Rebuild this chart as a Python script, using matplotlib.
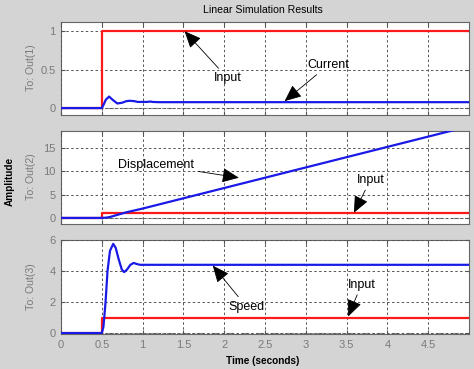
import matplotlib
matplotlib.use("Agg")
import matplotlib.pyplot as plt

plt.rcParams['font.family'] = ['Liberation Sans', 'DejaVu Sans']

# ---- data ----
t_input = [0, 0.5, 0.5, 5.0]
u_input = [0, 0, 1, 1]

t_current = [0, 0.5, 0.52, 0.55, 0.59, 0.63, 0.69, 0.75, 0.8, 0.84, 0.9, 0.94, 1.05, 1.1, 1.12, 1.2, 5.0]
y_current = [0, 0, 0.04, 0.11, 0.15, 0.11, 0.06, 0.07, 0.09, 0.095, 0.09, 0.08, 0.08, 0.085, 0.08, 0.077, 0.077]

t_disp = [0, 0.5, 0.55, 0.6, 0.7, 0.8, 1.0, 2.0, 3.0, 4.0, 5.0]
y_disp = [0, 0, 0.05, 0.2, 0.7, 1.2, 2.0, 6.4, 10.8, 15.2, 19.6]

t_speed = [0, 0.5, 0.52, 0.546, 0.57, 0.6, 0.64, 0.67, 0.71, 0.745, 0.774, 0.81, 0.85, 0.89, 0.93, 0.97, 1.0, 5.0]
y_speed = [0, 0, 0.4, 2.0, 4.0, 5.3, 5.75, 5.5, 4.7, 4.1, 3.93, 4.1, 4.4, 4.52, 4.45, 4.4, 4.4, 4.4]

x_ticks = [0, 0.5, 1, 1.5, 2, 2.5, 3, 3.5, 4, 4.5]
x_ticklabels = ['0', '0.5', '1', '1.5', '2', '2.5', '3', '3.5', '4', '4.5']
y1_ticks = [0, 0.5, 1]
y1_labels = ['0', '0.5', '1']
y2_ticks = [0, 5, 10, 15]
y2_labels = ['0', '5', '10', '15']
y3_ticks = [0, 2, 4, 6]
y3_labels = ['0', '2', '4', '6']

BG = '#d4d4d4'
TICKC = '#7a7a7a'
RED = '#ff1a1a'
BLUE = '#1a1ae6'

fig = plt.figure(figsize=(4.74, 3.69), dpi=100, facecolor=BG)

L, W = 61 / 474, (469 - 61) / 474
def box(top, bot):
    return [L, 1 - bot / 369, W, (bot - top) / 369]

ax1 = fig.add_axes(box(22, 115))
ax2 = fig.add_axes(box(131, 224))
ax3 = fig.add_axes(box(240, 334))

specs = [
    (ax1, t_current, y_current, (-0.09, 1.12), y1_ticks, y1_labels, 'To: Out(1)', 68),
    (ax2, t_disp, y_disp, (-1.3, 18.6), y2_ticks, y2_labels, 'To: Out(2)', 177),
    (ax3, t_speed, y_speed, (-0.06, 6.0), y3_ticks, y3_labels, 'To: Out(3)', 287),
]

for i, (ax, tx, ty, ylim, yt, yl, name, ymid) in enumerate(specs):
    ax.set_facecolor('white')
    ax.axhline(0, color='#8c8c8c', lw=0.8, ls=(0, (7, 2.5, 1.5, 2.5)), zorder=1)
    ax.plot(t_input, u_input, color=RED, lw=1.6, zorder=3)
    ax.plot(tx, ty, color=BLUE, lw=1.6, zorder=4)
    ax.set_xlim(0, 5.0)
    ax.set_ylim(*ylim)
    ax.set_xticks(x_ticks)
    ax.set_yticks(yt)
    ax.set_yticklabels(yl)
    if i == 2:
        ax.set_xticklabels(x_ticklabels)
    else:
        ax.set_xticklabels([])
    ax.grid(True, color='#555555', lw=0.7, ls=(0, (2.5, 2.5)))
    ax.set_axisbelow(False)
    ax.tick_params(direction='in', length=3, top=True, right=True,
                   colors='#555555', labelcolor=TICKC, labelsize=8, pad=4)
    for s in ax.spines.values():
        s.set_color('#666666')
        s.set_linewidth(0.8)
    fig.text(31 / 474, 1 - ymid / 369, name, color=TICKC, fontsize=7.6,
             rotation=90, ha='center', va='center')

fig.text(263 / 474, 1 - 10 / 369, 'Linear Simulation Results', ha='center', va='center', fontsize=7.6)
fig.text(263 / 474, 1 - 361 / 369, 'Time (seconds)', ha='center', va='center', fontsize=7.2, fontweight='bold')
fig.text(10 / 474, 1 - 181 / 369, 'Amplitude', ha='center', va='center', rotation=90, fontsize=7.2, fontweight='bold')

ap = dict(arrowstyle='-|>,head_length=0.8,head_width=0.35', color='black', lw=0.6,
          mutation_scale=13, shrinkA=1, shrinkB=0)
kw = dict(fontsize=9, ha='left', va='center', arrowprops=ap, zorder=6)

ax1.annotate('Input', xy=(1.515, 1.0), xytext=(1.87, 0.39), **kw)
ax1.annotate('Current', xy=(2.74, 0.09), xytext=(3.02, 0.56), **kw)
ax2.annotate('Displacement', xy=(2.18, 8.6), xytext=(0.70, 11.35), **kw)
ax2.annotate('Input', xy=(3.59, 1.1), xytext=(3.62, 8.1), **kw)
ax3.annotate('Speed', xy=(1.86, 4.35), xytext=(2.05, 1.71), **kw)
ax3.annotate('Input', xy=(3.52, 1.07), xytext=(3.51, 3.12), **kw)

fig.savefig('out.png', dpi=100, facecolor=BG)
